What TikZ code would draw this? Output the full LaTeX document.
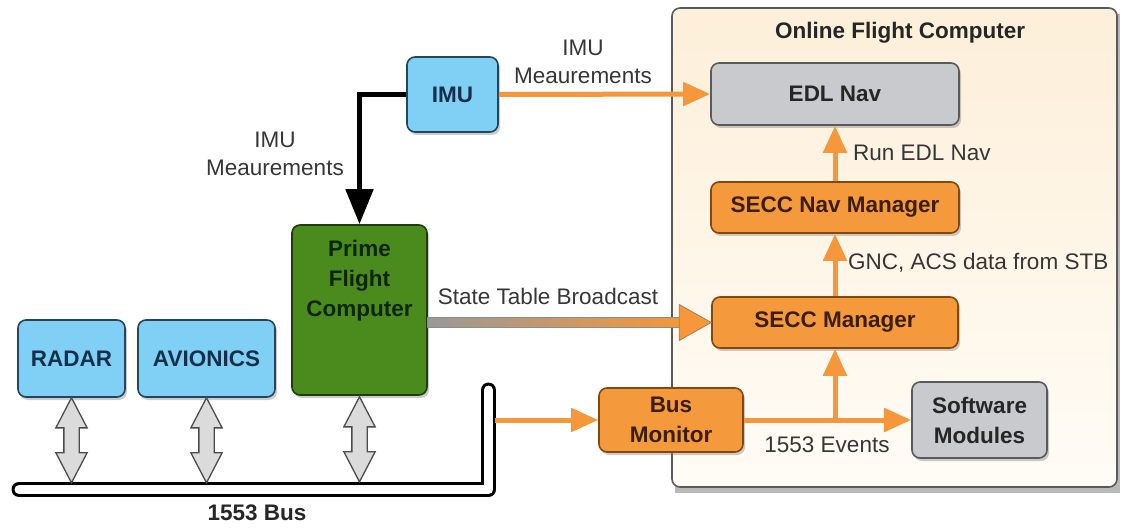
\documentclass[tikz,border=0pt]{standalone}
\usepackage{fontspec}
\setmainfont{Liberation Sans}
\usetikzlibrary{shapes.arrows,shadows,calc,arrows.meta}
\definecolor{bluefill}{HTML}{80CFF5}
\definecolor{blueline}{HTML}{24465A}
\definecolor{bluetext}{HTML}{16304A}
\definecolor{greenfill}{HTML}{4B8B1E}
\definecolor{greenline}{HTML}{1F3D0C}
\definecolor{greentext}{HTML}{0F2605}
\definecolor{orfill}{HTML}{F59A3C}
\definecolor{orline}{HTML}{84470F}
\definecolor{ortext}{HTML}{3A1E05}
\definecolor{grayfill}{HTML}{C9CACD}
\definecolor{grayline}{HTML}{5A5A5A}
\definecolor{arrowor}{HTML}{F5973A}
\definecolor{labeltext}{HTML}{363636}
\definecolor{conttop}{HTML}{FDEFD9}
\definecolor{contbot}{HTML}{FFFCF6}
\tikzset{
  every node/.style={font=\fontsize{22.5}{30}\selectfont},
  box/.style={rounded corners=8pt, line width=1.6pt, inner sep=0pt, align=center,
    font=\fontsize{22.5}{30}\selectfont\bfseries,
    drop shadow={shadow xshift=2pt, shadow yshift=-3pt, opacity=0.4}},
  bluebox/.style={box, fill=bluefill, draw=blueline, text=bluetext},
  greenbox/.style={box, fill=greenfill, draw=greenline, text=greentext},
  orbox/.style={box, fill=orfill, draw=orline, text=ortext},
  graybox/.style={box, fill=grayfill, draw=grayline, text=black!85},
  lbl/.style={text=labeltext, align=center, inner sep=0pt, font=\fontsize{22.5}{28.5}\selectfont},
  orarrow/.style={draw=arrowor, line width=5pt, -{Triangle[length=27pt, width=23pt]}},
  dbl/.style={double arrow, draw=black!70, fill=black!14, line width=1.3pt,
    rotate=90, minimum height=85pt, minimum width=0pt, inner xsep=0pt, inner ysep=7pt,
    double arrow head extend=8pt, double arrow tip angle=55},
}
\begin{document}
\begin{tikzpicture}[x=1pt, y=-1pt]
\useasboundingbox (0,0) rectangle (1122,529);

% container
\path[drop shadow={shadow xshift=3pt, shadow yshift=-6pt, opacity=0.55}]
  (672,8) rectangle (1117,487);
\shade[top color=conttop, bottom color=contbot, rounded corners=8pt]
  (672,8) rectangle (1117,487);
\draw[grayline, line width=1.6pt, rounded corners=8pt] (672,8) rectangle (1117,487);
\node[font=\fontsize{22.5}{30}\selectfont\bfseries, text=black!85] (title) at (900,33) {Online Flight Computer};

% nodes
\node[bluebox, minimum width=107pt, minimum height=77pt] (radar) at (71.5,358.5) {RADAR};
\node[bluebox, minimum width=137pt, minimum height=77pt] (avionics) at (206.5,358.5) {AVIONICS};
\node[greenbox, minimum width=135pt, minimum height=170pt] (pfc) at (359.5,310) {};
\node[text=greentext, font=\fontsize{22.5}{30}\selectfont\bfseries, align=center, anchor=north, inner sep=0pt] (pfctext) at ($(pfc.north)+(0,16)$) {Prime\\Flight\\Computer};
\node[bluebox, minimum width=91pt, minimum height=75pt] (imu) at (452.5,94.5) {IMU};
\node[graybox, minimum width=248pt, minimum height=62pt] (edl) at (835,94) {EDL Nav};
\node[orbox, minimum width=248pt, minimum height=51pt] (secnav) at (835,207.5) {SECC Nav Manager};
\node[orbox, minimum width=246pt, minimum height=51pt] (secc) at (835,322.5) {SECC Manager};
\node[orbox, minimum width=144pt, minimum height=64pt] (busmon) at (671,420) {Bus\\Monitor};
\node[graybox, minimum width=135pt, minimum height=76pt] (sw) at (979.5,420) {Software\\Modules};

% bus
\coordinate (busL) at (19,489.5);
\coordinate (busC) at (488.5,489.5);
\coordinate (busT) at (488.5,390);
\coordinate (busR) at (495,420);
\draw[line width=3pt, double=white, double distance=9pt, line cap=round, line join=round]
  (busL) -- (busC) -- (busT);
\node[font=\fontsize{22.5}{30}\selectfont\bfseries, text=black!85] (buslabel) at (257,513) {1553 Bus};

% double arrows to bus
\node[dbl] (d1) at ($(radar.south)+(0,42.5)$) {};
\node[dbl] (d2) at ($(avionics.south)+(0,42.5)$) {};
\node[dbl] (d3) at ($(pfc.south)+(0,43.5)$) {};

% IMU -> EDL Nav
\draw[orarrow] (imu.east) -- (edl.west);
\node[lbl] (l1) at (583,62) {IMU\\Meaurements};

% IMU -> Prime
\draw[line width=5pt, -{Triangle[length=35pt, width=27pt]}] (imu.west) -| (pfc.north);
\node[lbl] (l2) at (275,154) {IMU\\Meaurements};

% State table broadcast
\coordinate (stbS) at (pfc.east |- secc.west);
\shade[left color=black!40, right color=arrowor, draw=black!45, line width=0.8pt]
  ($(stbS)+(0,-5)$) rectangle ($(secc.west)+(-31,5)$);
\filldraw[fill=arrowor, draw=orline!70, line width=0.8pt]
  ($(secc.west)+(-32,-18)$) -- (secc.west) -- ($(secc.west)+(-32,18)$) -- cycle;
\node[lbl] (l3) at (548,296) {State Table Broadcast};

% manager chain
\draw[orarrow] (secc.north) -- (secnav.south);
\node[lbl, anchor=west] (l4) at (848,263) {GNC, ACS data from STB};
\draw[orarrow] (secnav.north) -- (edl.south);
\node[lbl, anchor=west] (l5) at (853,153) {Run EDL Nav};

% bus monitor
\draw[orarrow] (busR) -- (busmon.west);
\draw[orarrow] (busmon.east) -- (sw.west);
\coordinate (branch) at (busmon.east -| secc.south);
\draw[orarrow] (branch) -- (secc.south);
\node[lbl] (l6) at (827,445) {1553 Events};
\end{tikzpicture}
\end{document}
